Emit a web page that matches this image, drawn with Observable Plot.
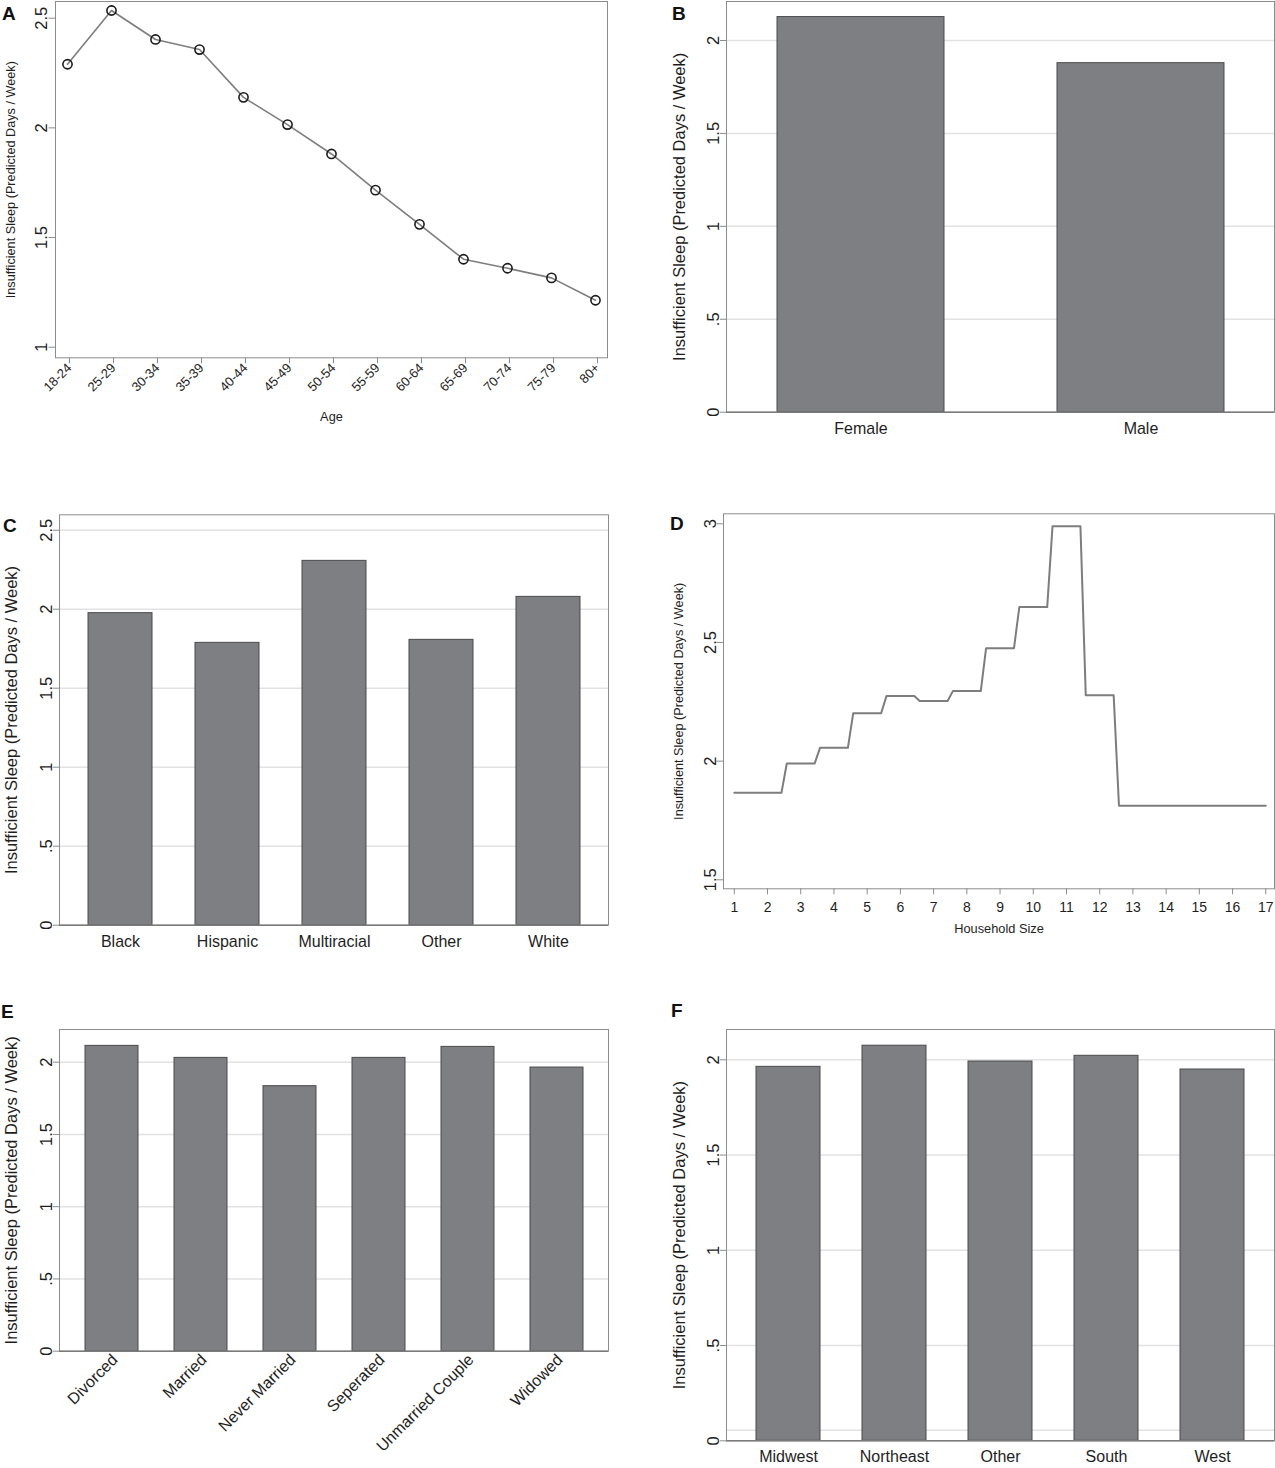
<!DOCTYPE html>
<html>
<head>
<meta charset="utf-8">
<script src="https://cdn.jsdelivr.net/npm/d3@7"></script>
<script src="https://cdn.jsdelivr.net/npm/@observablehq/plot@0.6"></script>
<style>
  html, body { margin: 0; padding: 0; background: #fff; }
  #root { position: relative; width: 1275px; height: 1468px; overflow: hidden; background: #fff; }
</style>
</head>
<body>
<div id="root"></div>
<script>
// ---------- data ----------
const yTitle = "Insufficient Sleep (Predicted Days / Week)";

const ageGroups = ["18-24","25-29","30-34","35-39","40-44","45-49","50-54","55-59","60-64","65-69","70-74","75-79","80+"];
const ageValues = [2.29, 2.535, 2.403, 2.357, 2.139, 2.015, 1.881, 1.716, 1.560, 1.401, 1.360, 1.316, 1.214];

const sexCategories = ["Female", "Male"];
const sexValues = [2.126, 1.878];

const raceCategories = ["Black", "Hispanic", "Multiracial", "Other", "White"];
const raceValues = [1.975, 1.787, 2.306, 1.806, 2.078];

const householdSizes = [1,2,3,4,5,6,7,8,9,10,11,12,13,14,15,16,17];
const householdValues = [1.867, 1.867, 1.990, 2.056, 2.202, 2.274, 2.253, 2.295, 2.476, 2.649, 2.990, 2.278, 1.812, 1.812, 1.812, 1.812, 1.812];

const maritalCategories = ["Divorced", "Married", "Never Married", "Seperated", "Unmarried Couple", "Widowed"];
const maritalValues = [2.113, 2.030, 1.834, 2.030, 2.106, 1.963];

const regionCategories = ["Midwest", "Northeast", "Other", "South", "West"];
const regionValues = [1.963, 2.074, 1.991, 2.021, 1.949];

const barTicks = [0, 0.5, 1, 1.5, 2];
const raceTicks = [0, 0.5, 1, 1.5, 2, 2.5];
const ageTicks = [1, 1.5, 2, 2.5];
const householdTicks = [1.5, 2, 2.5, 3];

// ---------- helpers ----------
const FONT = '"Liberation Sans", Arial, Helvetica, sans-serif';
const root = document.getElementById("root");
const fmt = d => d === 0 ? "0" : String(d).replace(/^0\./, ".");
const FRAME = "#8c8c8c";
const TICK = "#8c8c8c";
const TEXT = "#1e1e1e";

function panel({x0, x1, y0, y1, ml, mr, mt, mb, ...rest}) {
  const svg = Plot.plot({
    width: (x1 - x0) + ml + mr,
    height: (y1 - y0) + mt + mb,
    marginLeft: ml, marginRight: mr, marginTop: mt, marginBottom: mb,
    style: {fontFamily: FONT, fontSize: "16px", color: TEXT, background: "none", overflow: "visible"},
    ...rest
  });
  svg.style.position = "absolute";
  svg.style.left = (x0 - ml) + "px";
  svg.style.top = (y0 - mt) + "px";
  root.appendChild(svg);
}

function yTitleMark(dx, size) {
  return Plot.text([yTitle], {text: d => d, frameAnchor: "left", rotate: -90, dx,
                              textAnchor: "middle", lineAnchor: "middle", fontSize: size, fill: TEXT});
}

function barPanel(o) {
  const data = o.cats.map((c, i) => ({cat: c, value: o.vals[i]}));
  panel({
    x0: o.x0, x1: o.x1, y0: o.y0, y1: o.y1, ml: o.x0 - o.svgLeft, mr: 1, mt: o.mt, mb: o.mb,
    x: {type: "band", domain: o.cats, paddingInner: o.pi, paddingOuter: o.po, label: null},
    y: {domain: [0, o.top], label: null},
    marks: [
      Plot.gridY(o.grid, {stroke: "#e2e2e2", strokeOpacity: 1, strokeWidth: 1.5}),
      Plot.barY(data, {x: "cat", y: "value", fill: "#7e7f83", stroke: "#4a4a4a", strokeWidth: 1}),
      Plot.frame({stroke: FRAME}),
      Plot.ruleY([0], {stroke: "#7a7a7a", strokeWidth: 1.5}),
      Plot.axisY({ticks: o.yticks, tickFormat: fmt, tickRotate: -90, tickSize: 6, tickPadding: 1.5,
                  stroke: TICK, fill: TEXT, fontSize: 16.5, label: null}),
      o.rotate
        ? Plot.axisX({tickRotate: -45, tickSize: 0, tickPadding: 6, dx: 3, fontSize: 16, fill: TEXT, label: null})
        : Plot.axisX({tickSize: 0, tickPadding: 10, fontSize: 16, fill: TEXT, label: null}),
      yTitleMark(o.titleX - o.x0, 16.5)
    ]
  });
}

// ---------- A: age ----------
const ageData = ageGroups.map((g, i) => ({group: g, value: ageValues[i]}));
panel({
  x0: 55, x1: 607, y0: 1, y1: 357.3, ml: 55, mr: 6, mt: 1, mb: 75,
  x: {type: "point", domain: ageGroups, padding: 0.2385, label: null},
  y: {domain: [0.9517, 2.5761], label: null},
  marks: [
    Plot.frame({stroke: FRAME}),
    Plot.line(ageData, {x: "group", y: "value", stroke: "#7d7d7d", strokeWidth: 1.6}),
    Plot.dot(ageData, {x: "group", y: "value", r: 4.6, stroke: "#1a1a1a", strokeWidth: 1.6, fill: "none"}),
    Plot.axisY({ticks: ageTicks, tickFormat: fmt, tickRotate: -90, tickSize: 6.5, tickPadding: 2,
                stroke: TICK, fill: TEXT, fontSize: 16.5, label: null}),
    Plot.axisX({tickRotate: -45, tickSize: 6, tickPadding: 2, dx: 2, stroke: TICK, fill: TEXT, fontSize: 13, label: null}),
    Plot.text(["Age"], {text: d => d, frameAnchor: "bottom", dy: 59.4, lineAnchor: "middle", fontSize: 12.8, fill: TEXT}),
    yTitleMark(10.5 - 55, 12.7)
  ]
});

// ---------- B: sex ----------
barPanel({cats: sexCategories, vals: sexValues, x0: 726, x1: 1274, y0: 1, y1: 411.7, svgLeft: 640, mt: 1, mb: 40,
          top: 2.2098, pi: 0.4036, po: 0.18, grid: [0.5, 1, 1.5, 2], yticks: barTicks, titleX: 679.6});

// ---------- C: race ----------
barPanel({cats: raceCategories, vals: raceValues, x0: 59, x1: 608, y0: 514.3, y1: 924.7, svgLeft: 0, mt: 14.3, mb: 40,
          top: 2.5975, pi: 0.405, po: 0.256, grid: [0.5, 1, 1.5, 2, 2.5], yticks: raceTicks, titleX: 11});

// ---------- D: household size ----------
const half = 0.42;
const stepPoints = householdSizes.flatMap((s, i) => [
  {size: Math.max(householdSizes[0], s - half), value: householdValues[i]},
  {size: Math.min(householdSizes[householdSizes.length - 1], s + half), value: householdValues[i]}
]);
panel({
  x0: 723, x1: 1274, y0: 513.3, y1: 888.3, ml: 63, mr: 1, mt: 13.3, mb: 55,
  x: {domain: [0.675, 17.262], label: null},
  y: {domain: [1.4621, 3.0421], label: null},
  marks: [
    Plot.frame({stroke: FRAME}),
    Plot.line(stepPoints, {x: "size", y: "value", stroke: "#7d7d7d", strokeWidth: 2}),
    Plot.axisY({ticks: householdTicks, tickFormat: fmt, tickRotate: -90, tickSize: 6.5, tickPadding: 1,
                stroke: TICK, fill: TEXT, fontSize: 16.5, label: null}),
    Plot.axisX({ticks: householdSizes, tickFormat: d => String(d), tickSize: 6, tickPadding: 7,
                stroke: TICK, fill: TEXT, fontSize: 14, label: null}),
    Plot.text(["Household Size"], {text: d => d, frameAnchor: "bottom", dy: 40, lineAnchor: "middle", fontSize: 12.8, fill: TEXT}),
    yTitleMark(678.7 - 723, 12.7)
  ]
});

// ---------- E: marital status ----------
barPanel({cats: maritalCategories, vals: maritalValues, x0: 59, x1: 608, y0: 1029, y1: 1350.7, svgLeft: 0, mt: 9, mb: 117,
          top: 2.2263, pi: 0.406, po: 0.28, grid: [0.5, 1, 1.5, 2], yticks: barTicks, titleX: 11, rotate: true});

// ---------- F: region ----------
barPanel({cats: regionCategories, vals: regionValues, x0: 726, x1: 1274, y0: 1029, y1: 1440.3, svgLeft: 640, mt: 9, mb: 27.7,
          top: 2.159, pi: 0.40, po: 0.275, grid: [0.055, 0.5, 1, 1.5, 2], yticks: barTicks, titleX: 679.7});

// ---------- panel letters ----------
const letters = [
  {t: "A", x: 2, y: 20}, {t: "B", x: 672, y: 20},
  {t: "C", x: 3, y: 532}, {t: "D", x: 670, y: 530},
  {t: "E", x: 1, y: 1018}, {t: "F", x: 671, y: 1017}
];
const ov = d3.select(root).append("svg")
  .attr("width", 1275).attr("height", 1468)
  .style("position", "absolute").style("left", "0px").style("top", "0px").style("pointer-events", "none");
ov.selectAll("text").data(letters).join("text")
  .attr("x", d => d.x).attr("y", d => d.y)
  .attr("font-family", FONT).attr("font-weight", "bold").attr("font-size", 19).attr("fill", "#111")
  .text(d => d.t);
</script>
</body>
</html>
